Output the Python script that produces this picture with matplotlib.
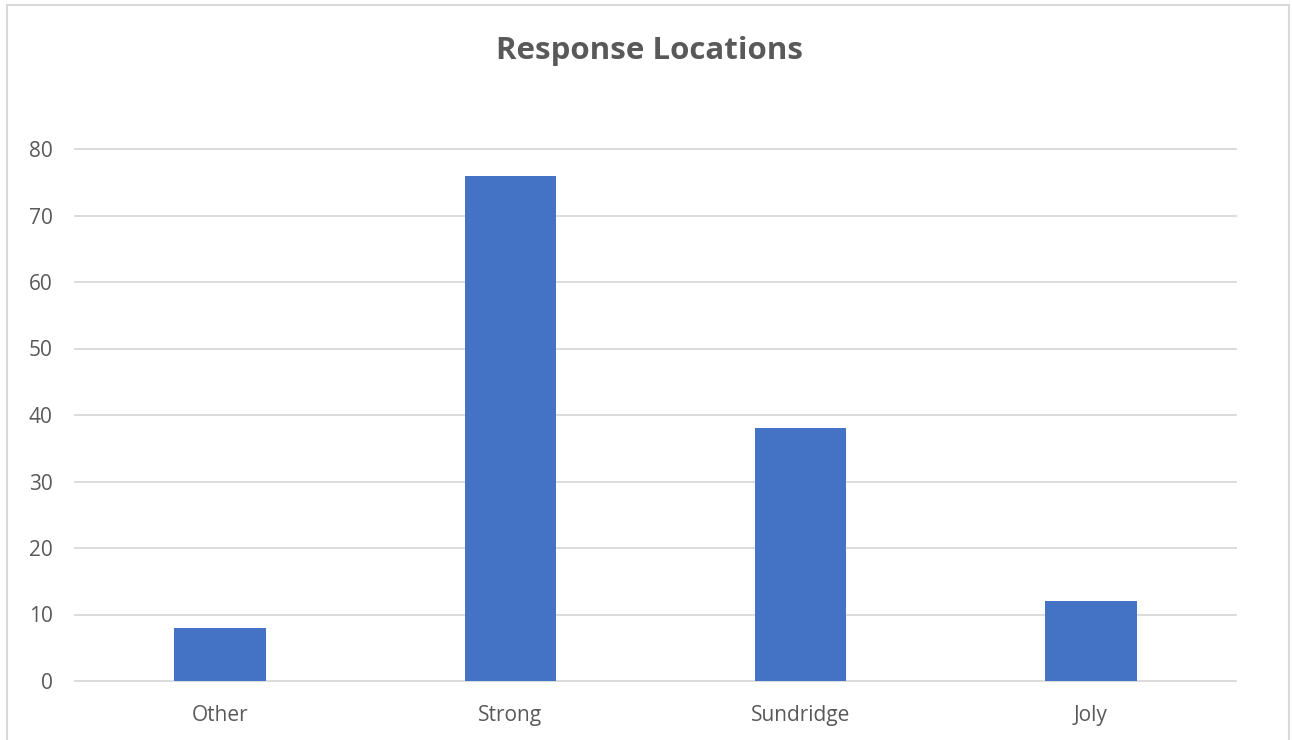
import matplotlib.pyplot as plt
from matplotlib.patches import Rectangle

# Survey responses by location
categories = ["Other", "Strong", "Sundridge", "Joly"]
responses = [8, 76, 38, 12]
y_ticks = [0, 10, 20, 30, 40, 50, 60, 70, 80]

plt.rcParams['font.family'] = ['Open Sans', 'DejaVu Sans']
text_color = "#595959"

fig = plt.figure(figsize=(12.92, 7.40), dpi=100)
ax = fig.add_axes([75 / 1292, 1 - 681 / 740, (1236 - 75) / 1292, (681 - 149) / 740])

x = range(len(categories))
ax.bar(x, responses, width=0.315, color="#4472C4", zorder=3)

ax.set_xlim(-0.5, len(categories) - 0.5)
ax.set_ylim(0, 80)
ax.set_yticks(y_ticks)
ax.set_xticks(list(x))
ax.set_xticklabels(categories)
ax.tick_params(axis="both", length=0, labelsize=15, labelcolor=text_color)
ax.tick_params(axis="x", pad=17)
ax.tick_params(axis="y", pad=16)
ax.grid(axis="y", color="#d9d9d9", linewidth=1.3, zorder=0)
for line in ax.get_ygridlines():
    line.set_clip_on(False)
for s in ax.spines.values():
    s.set_visible(False)

fig.text(650 / 1292, 1 - 51 / 740, "Response Locations", ha="center", va="center",
         fontsize=22.5, fontweight="bold", color=text_color)

# chart area border
fig.patches.append(Rectangle((7 / 1292, -0.01), (1289 - 7) / 1292, 1 - 5 / 740 + 0.01,
                             transform=fig.transFigure, fill=False,
                             edgecolor="#d9d9d9", linewidth=1.5))

fig.savefig("out.png", dpi=100)
